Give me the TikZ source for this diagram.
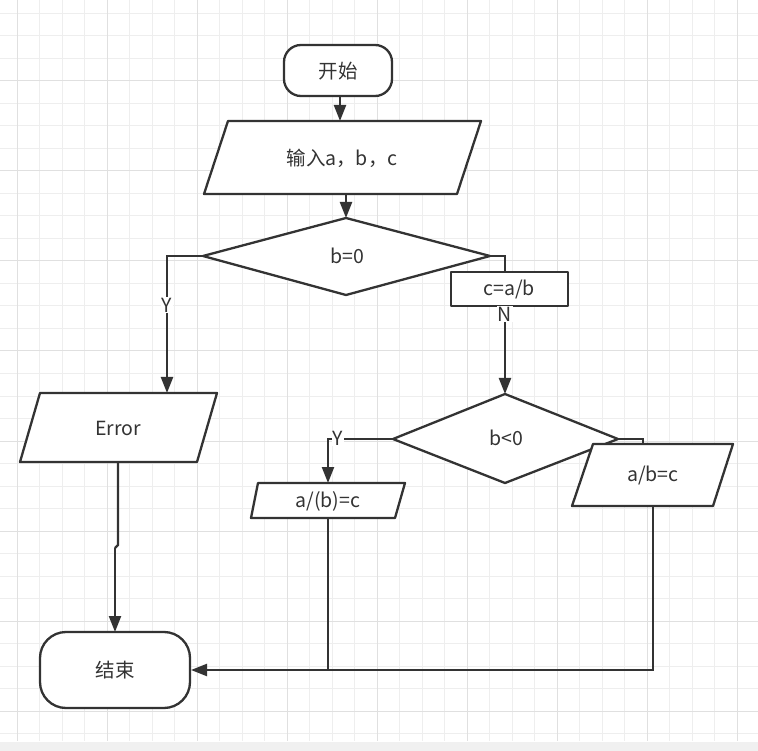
\documentclass[tikz,border=0pt]{standalone}
\usepackage{fontspec}
\setmainfont{Noto Sans CJK SC}
\usetikzlibrary{arrows.meta}
\definecolor{ink}{HTML}{333333}
\definecolor{gridminor}{HTML}{EEEEEE}
\definecolor{gridmajor}{HTML}{E0E0E0}
\definecolor{band}{HTML}{F0F0F0}
\begin{document}
\begin{tikzpicture}[x=1pt,y=-1pt,
  shapeline/.style={draw=ink,line width=2.3pt,fill=white,line join=round},
  conn/.style={draw=ink,line width=2.3pt},
  arr/.style={conn,-{Triangle[width=12pt,length=16pt]}},
  txt/.style={text=ink,font=\fontsize{19.5}{22}\selectfont,inner sep=0pt},
  lbl/.style={text=ink,font=\fontsize{19.5}{22}\selectfont,fill=white,inner sep=1pt}]
\useasboundingbox (0,0) rectangle (758,751);
\fill[white] (0,0) rectangle (758,742);
\fill[band] (0,742) rectangle (758,751);
% grid
\foreach \i in {0,...,33} {
  \draw[gridminor,line width=1pt] ({17+22.5*(\i-1)},0) -- ({17+22.5*(\i-1)},741);
}
\foreach \j in {0,...,33} {
  \draw[gridminor,line width=1pt] (0,{13.5+22.5*\j}) -- (758,{13.5+22.5*\j});
}
\foreach \i in {0,...,8} {
  \draw[gridmajor,line width=1pt] ({17+90*\i},0) -- ({17+90*\i},741);
}
\foreach \j in {0,...,8} {
  \draw[gridmajor,line width=1pt] (0,{81+90*\j}) -- (758,{81+90*\j});
}
% coordinates
\coordinate (startB) at (340,96);
\coordinate (inT) at (340,121);
\coordinate (inB) at (346,194);
\coordinate (d1T) at (346,218);
\coordinate (d1L) at (203,256);
\coordinate (d1R) at (490,256);
\coordinate (yL1) at (167,256);
\coordinate (errT) at (167,393);
\coordinate (errB) at (118,462);
\coordinate (jog1) at (118,545);
\coordinate (jog2) at (115,548);
\coordinate (endT) at (115,632);
\coordinate (nR1) at (505,256);
\coordinate (d2T) at (505,394);
\coordinate (d2L) at (393,439);
\coordinate (d2R) at (618,439);
\coordinate (yL2) at (328,439);
\coordinate (p1T) at (328,483);
\coordinate (p1B) at (328,518);
\coordinate (rR1) at (643,439);
\coordinate (p2T) at (643,444);
\coordinate (p2B) at (653,506);
\coordinate (join1) at (328,670);
\coordinate (join2) at (653,670);
\coordinate (endR) at (191,670);
% connectors (under shapes)
\draw[arr] (startB) -- (inT);
\draw[arr] (inB) -- (d1T);
\draw[arr] (d1L) -- (yL1) -- (errT);
\draw[conn] (errB) -- (jog1) -- (jog2);
\draw[arr] (jog2) -- (endT);
\draw[arr] (d1R) -- (nR1) -- (d2T);
\draw[arr] (d2L) -- (yL2) -- (p1T);
\draw[conn] (d2R) -- (rR1) -- (p2T);
\draw[conn] (p1B) -- (join1);
\draw[arr] (p2B) -- (join2) -- (endR);
% shapes
\path[shapeline,rounded corners=17pt] (284,45) rectangle (392,96);
\node[txt] (start) at (338,71) {开始};
\path[shapeline] (228,121) -- (481,121) -- (457,194) -- (204,194) -- cycle;
\node[txt] (input) at (342,158) {输入a，b，c};
\path[shapeline] (346,218) -- (490,256) -- (346,295) -- (203,256) -- cycle;
\node[txt] (d1) at (347,256) {b=0};
\path[shapeline] (451,272) rectangle (568,306);
\node[txt] (cab) at (509,289) {c=a/b};
\node[lbl] (nlab) at (505,314) {N};
\node[lbl] (ylab1) at (167,305) {Y};
\path[shapeline] (40,393) -- (217,393) -- (197,462) -- (20,462) -- cycle;
\node[txt] (err) at (118,428) {Error};
\path[shapeline] (505,394) -- (618,439) -- (505,483) -- (393,439) -- cycle;
\node[txt] (d2) at (506,438) {b<0};
\node[lbl,inner sep=0.5pt] (ylab2) at (338,438) {Y};
\path[shapeline] (258,483) -- (405,483) -- (395,518) -- (251,518) -- cycle;
\node[txt] (p1) at (328,501) {a/(b)=c};
\path[shapeline] (593,444) -- (733,444) -- (713,506) -- (572,506) -- cycle;
\node[txt] (p2) at (653,475) {a/b=c};
\path[shapeline,rounded corners=26pt] (40,632) rectangle (190,708);
\node[txt] (endn) at (115,670) {结束};
\end{tikzpicture}
\end{document}
